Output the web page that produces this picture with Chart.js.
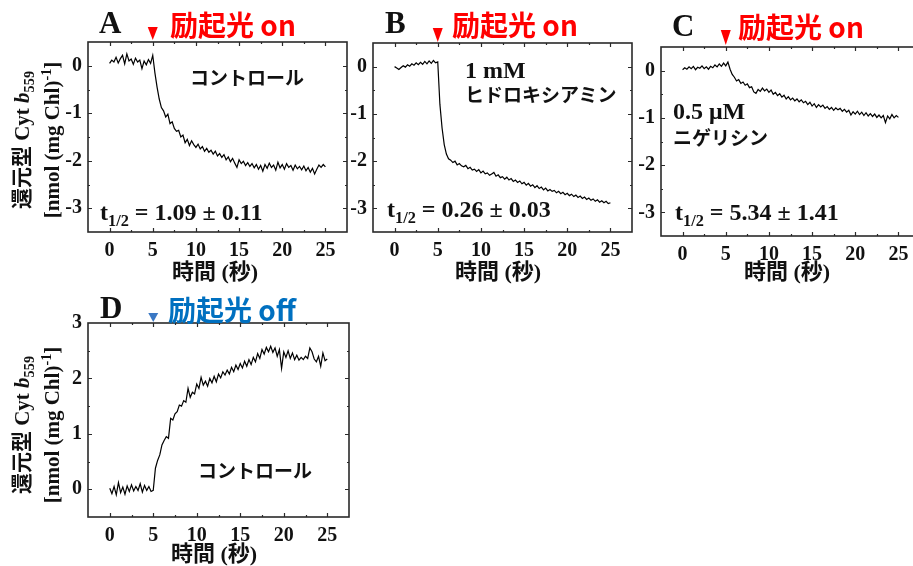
<!DOCTYPE html>
<html lang="ja">
<head>
<meta charset="utf-8">
<script src="https://cdn.jsdelivr.net/npm/chart.js@4.4.1/dist/chart.umd.min.js"></script>
<style>
  html, body { margin: 0; padding: 0; background: #fff; }
  body { width: 913px; height: 566px; position: relative; overflow: hidden; }
  canvas { position: absolute; }
  .t { position: absolute; white-space: nowrap; line-height: 1; }
  .serif { font-family: "Liberation Serif", "Noto Sans CJK JP", serif; font-weight: bold; color: #111; }
  .jp { font-family: "Noto Sans CJK JP", sans-serif; font-weight: bold; color: #111; font-size: 19px; }
  .letter { font-size: 31px; }
  .exc { font-family: "Noto Sans CJK JP", sans-serif; font-weight: bold; font-size: 28px; }
  .red { color: #ff0000; }
  .blue { color: #0070c0; }
  .ytitle { transform: translate(-50%, -50%) rotate(-90deg); text-align: center; font-size: 21px; line-height: 30px; }
  .xtitle { transform: translateX(-50%); font-size: 22px; }
  .note { font-size: 24px; }
  sub, sup { font-size: 0.68em; line-height: 0; }
</style>
</head>
<body>
<canvas id="chartA" width="320" height="250" style="left:40px;top:20px"></canvas>
<canvas id="chartB" width="320" height="249" style="left:325px;top:21px"></canvas>
<canvas id="chartC" width="320" height="249" style="left:613px;top:25px"></canvas>
<canvas id="chartD" width="322" height="254" style="left:40px;top:301px"></canvas>

<!-- panel letters and light markers -->
<div class="t serif letter" style="left:99px;top:7px">A</div>
<div class="t serif letter" style="left:385px;top:7px">B</div>
<div class="t serif letter" style="left:672px;top:10px">C</div>
<div class="t serif letter" style="left:100px;top:292px">D</div>
<div class="t exc red" style="left:170px;top:10px">励起光 on</div>
<div class="t exc red" style="left:452px;top:10px">励起光 on</div>
<div class="t exc red" style="left:738px;top:12px">励起光 on</div>
<div class="t exc blue" style="left:168px;top:295px">励起光 off</div>

<!-- axis titles -->
<div class="t serif ytitle" style="left:37px;top:140px">還元型 Cyt <i>b</i><sub>559</sub><br>[nmol (mg Chl)<sup>-1</sup>]</div>
<div class="t serif ytitle" style="left:37px;top:425px">還元型 Cyt <i>b</i><sub>559</sub><br>[nmol (mg Chl)<sup>-1</sup>]</div>
<div class="t serif xtitle" style="left:215px;top:261px">時間 (秒)</div>
<div class="t serif xtitle" style="left:498px;top:261px">時間 (秒)</div>
<div class="t serif xtitle" style="left:787px;top:261px">時間 (秒)</div>
<div class="t serif xtitle" style="left:214px;top:543px">時間 (秒)</div>

<!-- in-plot notes -->
<div class="t jp" style="left:190px;top:67px">コントロール</div>
<div class="t serif note" style="left:100px;top:200px">t<sub>1/2</sub> = 1.09 ± 0.11</div>
<div class="t serif note" style="left:465px;top:58px">1 mM</div>
<div class="t jp" style="left:465px;top:84px">ヒドロキシアミン</div>
<div class="t serif note" style="left:387px;top:197px">t<sub>1/2</sub> = 0.26 ± 0.03</div>
<div class="t serif note" style="left:673px;top:99px">0.5 μM</div>
<div class="t jp" style="left:673px;top:127px">ニゲリシン</div>
<div class="t serif note" style="left:675px;top:200px">t<sub>1/2</sub> = 5.34 ± 1.41</div>
<div class="t jp" style="left:198px;top:460px">コントロール</div>

<script>
// time axis (s)
const timeSec = [
  0, 0.25, 0.5, 0.75, 1, 1.25, 1.5, 1.75, 2, 2.25, 2.5, 2.75, 3, 3.25, 3.5, 3.75, 4, 4.25, 4.5, 4.75,
  5, 5.25, 5.5, 5.75, 6, 6.25, 6.5, 6.75, 7, 7.25, 7.5, 7.75, 8, 8.25, 8.5, 8.75, 9, 9.25, 9.5, 9.75,
  10, 10.25, 10.5, 10.75, 11, 11.25, 11.5, 11.75, 12, 12.25, 12.5, 12.75, 13, 13.25, 13.5, 13.75, 14, 14.25, 14.5, 14.75,
  15, 15.25, 15.5, 15.75, 16, 16.25, 16.5, 16.75, 17, 17.25, 17.5, 17.75, 18, 18.25, 18.5, 18.75, 19, 19.25, 19.5, 19.75,
  20, 20.25, 20.5, 20.75, 21, 21.25, 21.5, 21.75, 22, 22.25, 22.5, 22.75, 23, 23.25, 23.5, 23.75, 24, 24.25, 24.5, 24.75,
  25
];

// A: control, light on
const reducedA = [
  0.05, 0.12, 0.08, 0.18, 0.06, 0.15, 0.22, 0.04, 0.25, 0.10, 0.14, 0.03, 0.16, 0.08, 0.12, -0.06, 0.10, 0.02, 0.13, 0.05,
  0.22, -0.15, -0.45, -0.70, -0.88, -0.95, -1.08, -1.02, -1.22, -1.18, -1.32, -1.38, -1.36, -1.50, -1.46, -1.62, -1.55, -1.68, -1.58, -1.66,
  -1.72, -1.65, -1.75, -1.70, -1.80, -1.74, -1.82, -1.78, -1.86, -1.80, -1.90, -1.85, -1.93, -1.87, -1.98, -1.92, -2.02, -1.95, -2.05, -2.14,
  -1.98, -2.06, -2.01, -2.10, -2.04, -2.12, -2.06, -2.15, -2.08, -2.18, -2.10, -2.22, -2.08, -2.16, -2.05, -2.14, -2.09, -2.20, -2.03, -2.15,
  -2.08, -2.18, -2.06, -2.14, -2.10, -2.20, -2.09, -2.17, -2.12, -2.19, -2.11, -2.21, -2.14, -2.24, -2.16, -2.28, -2.18, -2.09, -2.14, -2.08,
  -2.13
];

// B: 1 mM hydroxylamine, light on
const reducedB = [
  0.00, -0.03, -0.06, -0.02, 0.02, -0.01, 0.04, 0.01, 0.06, 0.03, 0.08, 0.04, 0.09, 0.05, 0.11, 0.06, 0.12, 0.07, 0.13, 0.08,
  0.10, -0.80, -1.30, -1.65, -1.85, -1.95, -1.98, -2.03, -2.00, -2.08, -2.05, -2.10, -2.12, -2.09, -2.16, -2.13, -2.19, -2.17, -2.22, -2.18,
  -2.25, -2.21, -2.27, -2.25, -2.30, -2.27, -2.24, -2.32, -2.29, -2.35, -2.33, -2.38, -2.34, -2.40, -2.37, -2.43, -2.40, -2.45, -2.42, -2.48,
  -2.45, -2.51, -2.47, -2.53, -2.50, -2.56, -2.52, -2.58, -2.55, -2.61, -2.57, -2.63, -2.60, -2.64, -2.62, -2.67, -2.64, -2.69, -2.66, -2.71,
  -2.68, -2.73, -2.70, -2.75, -2.72, -2.77, -2.74, -2.79, -2.76, -2.81, -2.78, -2.83, -2.80, -2.85, -2.82, -2.87, -2.84, -2.88, -2.85, -2.90,
  -2.88
];

// C: 0.5 uM nigericin, light on
const reducedC = [
  0.02, 0.06, 0.03, 0.08, 0.04, 0.09, 0.02, 0.07, 0.05, 0.10, 0.04, 0.08, 0.03, 0.09, 0.06, 0.12, 0.08, 0.14, 0.09, 0.16,
  0.10, 0.18, 0.03, -0.08, -0.14, -0.22, -0.19, -0.27, -0.24, -0.31, -0.28, -0.36, -0.34, -0.45, -0.48, -0.40, -0.44, -0.37, -0.43, -0.39,
  -0.46, -0.41, -0.50, -0.46, -0.53, -0.49, -0.56, -0.52, -0.60, -0.55, -0.62, -0.58, -0.64, -0.60, -0.66, -0.62, -0.68, -0.65, -0.72, -0.67,
  -0.75, -0.70, -0.78, -0.72, -0.77, -0.73, -0.80, -0.76, -0.82, -0.78, -0.84, -0.79, -0.83, -0.80, -0.86, -0.82, -0.88, -0.84, -0.94, -0.87,
  -0.92, -0.86, -0.93, -0.88, -0.95, -0.89, -0.96, -0.91, -0.97, -0.92, -0.99, -0.94, -1.00, -0.95, -1.10, -0.96, -1.02, -0.93, -1.00, -0.95,
  -0.99
];

// D: control, light off
const reducedD = [
  0.02, -0.08, 0.05, -0.10, 0.12, -0.06, 0.04, -0.09, 0.06, -0.04, 0.08, -0.03, 0.05, -0.02, 0.10, -0.05, 0.07, -0.02, 0.05, -0.04,
  -0.02, 0.38, 0.52, 0.62, 0.80, 0.88, 0.95, 0.92, 1.28, 1.25, 1.36, 1.40, 1.52, 1.50, 1.60, 1.57, 1.82, 1.66, 1.75, 1.72,
  1.90, 1.82, 2.02, 1.88, 1.95, 1.86, 2.00, 1.92, 2.04, 1.94, 2.08, 2.01, 2.12, 2.06, 2.15, 2.08, 2.20, 2.12, 2.24, 2.16,
  2.27, 2.19, 2.31, 2.22, 2.34, 2.25, 2.38, 2.30, 2.45, 2.36, 2.52, 2.44, 2.56, 2.48, 2.58, 2.47, 2.55, 2.40, 2.52, 2.18,
  2.48, 2.38, 2.50, 2.36, 2.46, 2.34, 2.42, 2.33, 2.38, 2.34, 2.40, 2.36, 2.55, 2.48, 2.35, 2.30, 2.40, 2.22, 2.46, 2.32,
  2.35
];

const xTicks = [0, 5, 10, 15, 20, 25];
const yTicksOn = [-3, -2, -1, 0];
const yTicksOff = [0, 1, 2, 3];

const tickFont = { family: '"Liberation Serif", "Times New Roman", serif', size: 20, weight: 'bold' };

// box with inward major/minor ticks on all four sides + light marker
const framePlugin = {
  id: 'frame',
  afterDraw(chart, args, opts) {
    const { ctx, chartArea: a, scales: { x, y } } = chart;
    ctx.save();
    ctx.strokeStyle = '#2a2a2a';
    ctx.lineWidth = 1.2;
    ctx.beginPath();
    for (let v = x.min + 2.5; v < x.max; v += 2.5) {
      const px = Math.round(x.getPixelForValue(v)) + 0.5;
      const len = (v % 5 === 0) ? 4 : 2;
      ctx.moveTo(px, a.bottom); ctx.lineTo(px, a.bottom - len);
      ctx.moveTo(px, a.top); ctx.lineTo(px, a.top + len);
    }
    for (let v = y.min + 0.5; v < y.max; v += 0.5) {
      const py = Math.round(y.getPixelForValue(v)) + 0.5;
      const len = Number.isInteger(v) ? 4 : 2;
      ctx.moveTo(a.left, py); ctx.lineTo(a.left + len, py);
      ctx.moveTo(a.right, py); ctx.lineTo(a.right - len, py);
    }
    ctx.stroke();
    ctx.lineWidth = 1.6;
    ctx.strokeRect(a.left, a.top, a.right - a.left, a.bottom - a.top);

    // trigger marker
    const mx = x.getPixelForValue(opts.at);
    ctx.fillStyle = opts.color;
    ctx.beginPath();
    ctx.moveTo(mx - opts.w / 2, a.top - opts.gap - opts.h);
    ctx.lineTo(mx + opts.w / 2, a.top - opts.gap - opts.h);
    ctx.lineTo(mx, a.top - opts.gap);
    ctx.closePath();
    ctx.fill();
    ctx.restore();
  }
};

function makeChart(id, values, yMin, yMax, yTicks, marker) {
  return new Chart(document.getElementById(id), {
    type: 'line',
    data: {
      datasets: [{
        data: timeSec.map((t, i) => ({ x: t, y: values[i] })),
        borderColor: '#000',
        borderWidth: 1.2,
        pointRadius: 0,
        tension: 0,
        fill: false
      }]
    },
    options: {
      responsive: false,
      animation: false,
      devicePixelRatio: 1,
      layout: { padding: { left: 8, top: 22, right: 13, bottom: 8 } },
      plugins: { legend: { display: false }, tooltip: { enabled: false }, frame: marker },
      scales: {
        x: {
          type: 'linear', min: -2.5, max: 27.5,
          grid: { display: false, drawTicks: false },
          border: { display: false },
          ticks: { padding: 7, font: tickFont, color: '#111' },
          afterBuildTicks: (s) => { s.ticks = xTicks.map(v => ({ value: v })); },
          afterFit: (s) => { s.height = 30; }
        },
        y: {
          type: 'linear', min: yMin, max: yMax,
          grid: { display: false, drawTicks: false },
          border: { display: false },
          ticks: { padding: 6, font: tickFont, color: '#111' },
          afterBuildTicks: (s) => { s.ticks = yTicks.map(v => ({ value: v })); },
          afterFit: (s) => { s.width = 40; }
        }
      }
    },
    plugins: [framePlugin]
  });
}

makeChart('chartA', reducedA, -3.5, 0.5, yTicksOn, { at: 5, color: '#ff0000', w: 10, h: 13, gap: 2 });
makeChart('chartB', reducedB, -3.5, 0.5, yTicksOn, { at: 5, color: '#ff0000', w: 10, h: 14, gap: 1 });
makeChart('chartC', reducedC, -3.5, 0.5, yTicksOn, { at: 5, color: '#ff0000', w: 10, h: 15, gap: 2 });
makeChart('chartD', reducedD, -0.5, 3, yTicksOff, { at: 5, color: '#3a78c4', w: 10, h: 9, gap: 1 });
</script>
</body>
</html>
